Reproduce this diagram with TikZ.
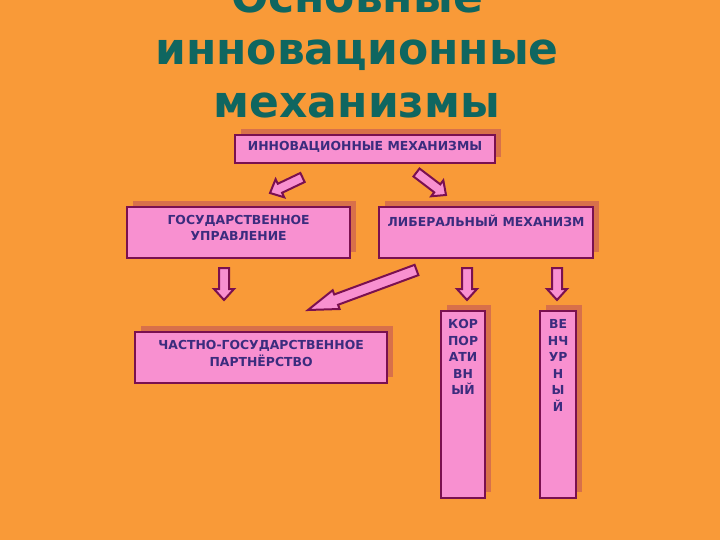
\documentclass[tikz,border=0pt]{standalone}
\usepackage{fontspec}
\setmainfont{DejaVu Sans}
\usetikzlibrary{calc,shadows}
\definecolor{bg}{HTML}{F99A38}
\definecolor{titlec}{HTML}{0F6660}
\definecolor{pinkf}{HTML}{F890D0}
\definecolor{bord}{HTML}{7A1050}
\definecolor{shad}{HTML}{D8704A}
\definecolor{txt}{HTML}{3B2C7E}
\newcommand{\blockarrow}[5]{% tail, tip, shaft half width, head half width, head length
  \draw[arr] ($(#1)!#3!90:(#2)$) -- ($(#2)!#5!(#1)!#3!-90:(#1)$) -- ($(#2)!#5!(#1)!#4!-90:(#1)$) -- (#2)
    -- ($(#2)!#5!(#1)!#4!90:(#1)$) -- ($(#2)!#5!(#1)!#3!90:(#1)$) -- ($(#1)!#3!-90:(#2)$) -- cycle;}
\begin{document}
\begin{tikzpicture}[x=1pt,y=-1pt,
  box/.style={draw=bord, line width=2.2pt, fill=pinkf, inner sep=0pt, anchor=north west,
    general shadow={fill=shad, draw=none, shadow xshift=6pt, shadow yshift=6pt}},
  btext/.style={font=\bfseries\fontsize{12.4}{16.5}\selectfont, text=txt, align=center, inner sep=0pt, anchor=north},
  arr/.style={draw=bord, line width=2pt, fill=pinkf, line join=miter},
  titletext/.style={font=\bfseries\fontsize{44}{52}\selectfont, text=titlec, anchor=base, inner sep=0pt}
]
\fill[bg] (0,0) rectangle (720,540);
\useasboundingbox (0,0) rectangle (720,540);

% title
\node[titletext] (t1) at (357,13) {Основные};
\node[titletext] (t2) at (357,65) {инновационные};
\node[titletext] (t3) at (357,118) {механизмы};

% boxes
\node[box, minimum width=260pt, minimum height=28pt] (im) at (234,134) {};
\node[btext, anchor=center] (imt) at ($(im.center)+(0,-2)$) {ИННОВАЦИОННЫЕ МЕХАНИЗМЫ};

\node[box, minimum width=223pt, minimum height=51pt] (gu) at (126,206) {};
\node[btext] (gut) at ($(gu.north)+(0,9)$) {ГОСУДАРСТВЕННОЕ\\УПРАВЛЕНИЕ};

\node[box, minimum width=214pt, minimum height=51pt] (lm) at (378,206) {};
\node[btext] (lmt) at ($(lm.north)+(0,9)$) {ЛИБЕРАЛЬНЫЙ МЕХАНИЗМ};

\node[box, minimum width=252pt, minimum height=51pt] (cg) at (134,331) {};
\node[btext] (cgt) at ($(cg.north)+(0,9.5)$) {ЧАСТНО-ГОСУДАРСТВЕННОЕ\\ПАРТНЁРСТВО};

\node[box, minimum width=44pt, minimum height=187pt] (kr) at (440,310) {};
\node[btext] (krt) at ($(kr.north)+(0,9.5)$) {КОР\\ПОР\\АТИ\\ВН\\ЫЙ};

\node[box, minimum width=36pt, minimum height=187pt] (vn) at (539,310) {};
\node[btext] (vnt) at ($(vn.north)+(0,9.5)$) {ВЕ\\НЧ\\УР\\Н\\Ы\\Й};

% arrows
\coordinate (a1s) at (302.5,177.5); \coordinate (a1e) at (270,193);
\coordinate (a2s) at (416.5,172.5); \coordinate (a2e) at (446,195);
\coordinate (a3s) at (224,268); \coordinate (a3e) at (224,300);
\coordinate (a4s) at (416.5,270); \coordinate (a4e) at (308,310);
\coordinate (a5s) at (467,268); \coordinate (a5e) at (467,300);
\coordinate (a6s) at (557,268); \coordinate (a6e) at (557,300);
\blockarrow{a1s}{a1e}{5pt}{10pt}{11pt}
\blockarrow{a2s}{a2e}{5pt}{10pt}{11pt}
\blockarrow{a3s}{a3e}{5pt}{10pt}{11pt}
\blockarrow{a4s}{a4e}{5.5pt}{10pt}{30pt}
\blockarrow{a5s}{a5e}{5pt}{10pt}{11pt}
\blockarrow{a6s}{a6e}{5pt}{10pt}{11pt}
\end{tikzpicture}
\end{document}
